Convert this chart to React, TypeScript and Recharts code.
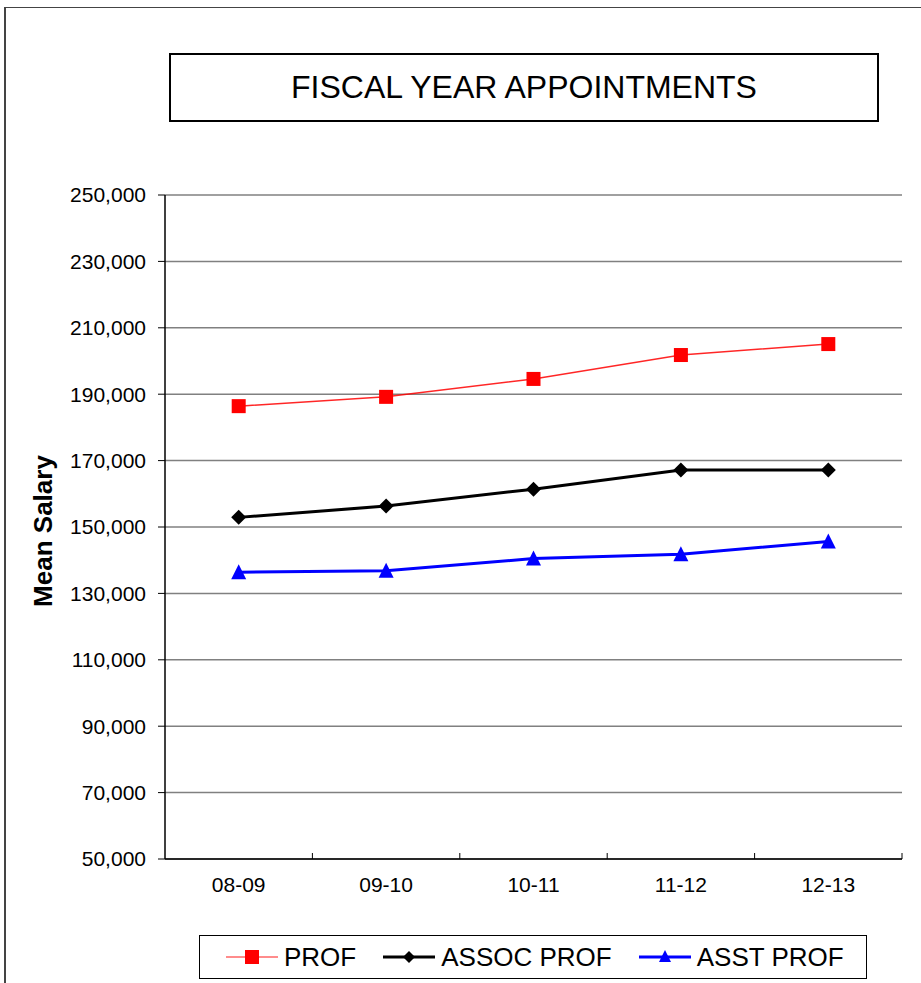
import { LineChart, Line, XAxis, YAxis, CartesianGrid, Legend } from 'recharts';

const YEARS = ['08-09', '09-10', '10-11', '11-12', '12-13'];
const PROF = [186400, 189200, 194600, 201800, 205100];
const ASSOC_PROF = [152900, 156300, 161400, 167200, 167200];
const ASST_PROF = [136400, 136800, 140500, 141800, 145600];
const Y_TICKS = [50000, 70000, 90000, 110000, 130000, 150000, 170000, 190000, 210000, 230000, 250000];

const FONT = '"Liberation Sans", Arial, sans-serif';

const CHART_W = 921;
const CHART_H = 983;
const MARGIN = { top: 195, right: 19, bottom: 84, left: 0 };
const Y_AXIS_W = 165;
const PLOT_W = CHART_W - MARGIN.left - MARGIN.right - Y_AXIS_W;
const BAND = PLOT_W / YEARS.length;
const X_TICK_MARGIN = 18;

const data = YEARS.map((year, i) => ({
  year,
  prof: PROF[i],
  assoc: ASSOC_PROF[i],
  asst: ASST_PROF[i],
}));

const SquareDot = (props: any) => {
  const { cx, cy, index } = props;
  if (cx == null || cy == null) return null;
  return <rect key={`sq-${index}`} x={cx - 7} y={cy - 7} width={14} height={14} fill="#FF0000" />;
};

const DiamondDot = (props: any) => {
  const { cx, cy, index } = props;
  if (cx == null || cy == null) return null;
  return (
    <polygon
      key={`dm-${index}`}
      points={`${cx},${cy - 7.5} ${cx + 7.5},${cy} ${cx},${cy + 7.5} ${cx - 7.5},${cy}`}
      fill="#000000"
    />
  );
};

const TriangleDot = (props: any) => {
  const { cx, cy, index } = props;
  if (cx == null || cy == null) return null;
  return (
    <polygon
      key={`tr-${index}`}
      points={`${cx},${cy - 8} ${cx + 7.5},${cy + 7} ${cx - 7.5},${cy + 7}`}
      fill="#0000FF"
    />
  );
};

// category label plus the small inward tick mark on the boundary after it (Excel style)
const CategoryTick = (props: any) => {
  const { x, y, payload } = props;
  const axisY = y - X_TICK_MARGIN;
  const bx = x + BAND / 2;
  return (
    <g>
      <line x1={bx} y1={axisY} x2={bx} y2={axisY - 6} stroke="#000" strokeWidth={1} />
      <text x={x} y={y} dy="0.71em" textAnchor="middle" fill="#000" fontSize={21} fontFamily={FONT}>
        {payload.value}
      </text>
    </g>
  );
};

const legendItems = [
  { name: 'PROF', color: '#FF0000', width: 1.5, marker: 'square' },
  { name: 'ASSOC PROF', color: '#000000', width: 3, marker: 'diamond' },
  { name: 'ASST PROF', color: '#0000FF', width: 3, marker: 'triangle' },
];

function LegendBox() {
  return (
    <div
      style={{
        boxSizing: 'border-box',
        width: 668,
        height: 44,
        border: '1.5px solid #000',
        display: 'flex',
        alignItems: 'center',
        paddingLeft: 26,
        fontFamily: FONT,
        fontSize: 26,
        color: '#000',
        background: '#fff',
      }}
    >
      {legendItems.map((item, i) => (
        <div key={item.name} style={{ display: 'flex', alignItems: 'center', marginRight: i < 2 ? 27 : 0 }}>
          <svg width={52} height={20} style={{ marginRight: 6 }}>
            <line x1={0} y1={10} x2={52} y2={10} stroke={item.color} strokeWidth={item.width} opacity={item.marker === 'square' ? 0.6 : 1} />
            {item.marker === 'square' && <rect x={19} y={3} width={14} height={14} fill={item.color} />}
            {item.marker === 'diamond' && <polygon points="26,4 32,10 26,16 20,10" fill={item.color} />}
            {item.marker === 'triangle' && <polygon points="26,3 32,15 20,15" fill={item.color} />}
          </svg>
          <span style={{ lineHeight: 1 }}>{item.name}</span>
        </div>
      ))}
    </div>
  );
}

export default function App() {
  return (
    <div style={{ position: 'absolute', left: 0, top: 0, width: CHART_W, height: CHART_H, background: '#fff', overflow: 'hidden' }}>
      {/* outer chart frame */}
      <div
        style={{
          position: 'absolute',
          left: 4,
          top: 7,
          width: 940,
          height: 1000,
          borderLeft: '2px solid #444',
          borderTop: '1.5px solid #444',
        }}
      />
      {/* title box */}
      <div
        style={{
          position: 'absolute',
          left: 169,
          top: 53,
          width: 710,
          height: 69,
          boxSizing: 'border-box',
          border: '2px solid #000',
          display: 'flex',
          alignItems: 'center',
          justifyContent: 'center',
          fontFamily: FONT,
          fontSize: 32,
          color: '#000',
        }}
      >
        FISCAL YEAR APPOINTMENTS
      </div>
      <div style={{ position: 'absolute', left: 0, top: 0 }}>
        <LineChart width={CHART_W} height={CHART_H} data={data} margin={MARGIN}>
          <CartesianGrid vertical={false} stroke="#808080" strokeWidth={1.5} />
          <XAxis
            dataKey="year"
            height={40}
            padding={{ left: BAND / 2, right: BAND / 2 }}
            axisLine={{ stroke: '#000', strokeWidth: 1.5 }}
            tickLine={false}
            tickSize={0}
            tickMargin={X_TICK_MARGIN}
            interval={0}
            tick={CategoryTick}
          />
          <YAxis
            width={Y_AXIS_W}
            domain={[50000, 250000]}
            ticks={Y_TICKS}
            interval={0}
            tickFormatter={(v: number) => v.toLocaleString('en-US')}
            tick={{ fill: '#000', fontSize: 21, fontFamily: FONT }}
            tickSize={7}
            tickMargin={12}
            axisLine={{ stroke: '#000', strokeWidth: 1.5 }}
            tickLine={{ stroke: '#000' }}
            label={{
              content: (p: any) => {
                const vb = p.viewBox || { x: 0, y: 195, height: 664 };
                const lx = vb.x + 52;
                const ly = vb.y + vb.height / 2 + 4;
                return (
                  <text
                    x={lx}
                    y={ly}
                    transform={`rotate(-90 ${lx} ${ly})`}
                    textAnchor="middle"
                    fontFamily={FONT}
                    fontSize={26}
                    fontWeight="bold"
                    fill="#000"
                  >
                    Mean Salary
                  </text>
                );
              },
            }}
          />
          <Legend
            layout="horizontal"
            verticalAlign="middle"
            align="center"
            wrapperStyle={{ left: 199, top: 935, width: 668, height: 44 }}
            content={() => <LegendBox />}
          />
          <Line type="linear" dataKey="prof" name="PROF" stroke="#FF0000" strokeOpacity={0.85} strokeWidth={1.5} dot={SquareDot} activeDot={false} isAnimationActive={false} />
          <Line type="linear" dataKey="assoc" name="ASSOC PROF" stroke="#000000" strokeWidth={3} dot={DiamondDot} activeDot={false} isAnimationActive={false} />
          <Line type="linear" dataKey="asst" name="ASST PROF" stroke="#0000FF" strokeWidth={3} dot={TriangleDot} activeDot={false} isAnimationActive={false} />
        </LineChart>
      </div>
    </div>
  );
}
